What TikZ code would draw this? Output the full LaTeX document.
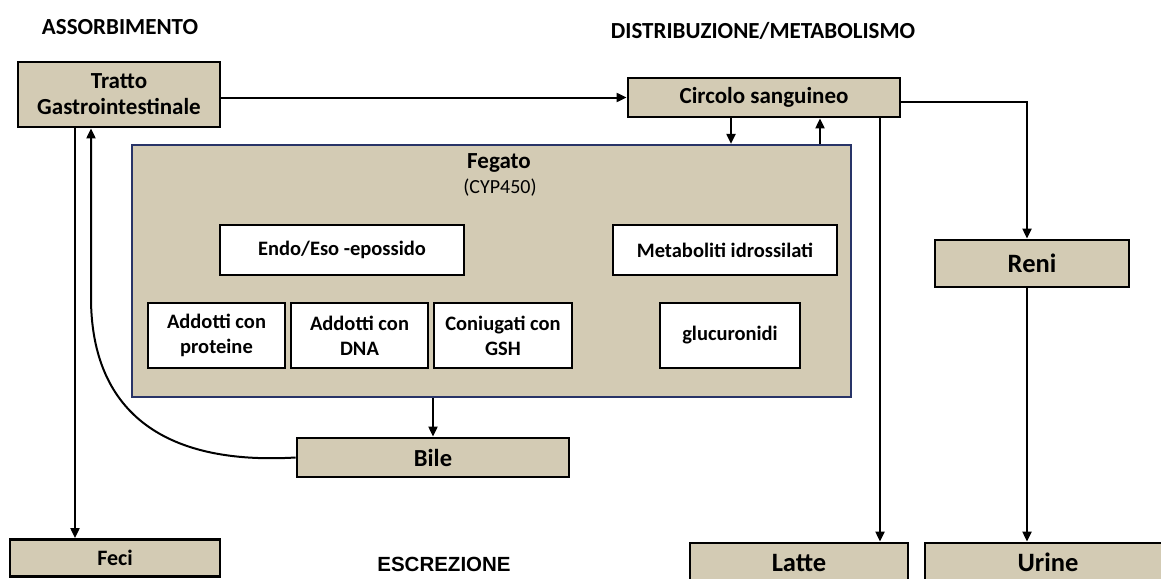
\documentclass[tikz,border=0pt]{standalone}
\usepackage{fontspec}
\setmainfont{Carlito}
\newfontfamily\arialfont{Liberation Sans}
\usetikzlibrary{arrows.meta,positioning}
\definecolor{boxtan}{RGB}{211,203,180}
\definecolor{liverblue}{RGB}{40,52,104}

\begin{document}
\begin{tikzpicture}[x=1pt,y=-1pt,>={Triangle[length=10pt,width=9pt]},
  box/.style={draw=black,line width=2.8pt,fill=boxtan,align=center,inner sep=0pt,font=\fontsize{23}{26}\selectfont\bfseries},
  bigbox/.style={box,font=\fontsize{26.5}{30}\selectfont\bfseries},
  bluebox/.style={box,draw=liverblue,line width=2.2pt},
  whitebox/.style={draw=black,line width=2.2pt,fill=white,align=center,inner sep=0pt,font=\fontsize{20.5}{25}\selectfont\bfseries},
  heading/.style={font=\fontsize{23}{26}\selectfont\bfseries},
  arr/.style={->,line width=2pt}]
  \useasboundingbox (0,0) rectangle (1161,578);
  % titoli
  \node[heading] (assorb) at (120,27) {ASSORBIMENTO};
  \node[heading] (distrib) at (763,31) {DISTRIBUZIONE/METABOLISMO};
  \node[font=\arialfont\fontsize{20.5}{24}\selectfont\bfseries] (escrez) at (444,564) {ESCREZIONE};
  % fegato
  \node[bluebox,minimum width=719pt,minimum height=252pt] (fegato) at (491.5,271) {};
  \node[font=\fontsize{23}{26}\selectfont\bfseries] (fegatolbl) at (499,163) {Fegato};
  \node[font=\fontsize{20}{24}\selectfont] (cyp) at (500,188) {(CYP450)};
  \node[whitebox,minimum width=244pt,minimum height=50pt] (epox) at (342,250) {Endo/Eso -epossido};
  \node[whitebox,minimum width=224pt,minimum height=50pt] (idross) at (725,250) {Metaboliti idrossilati};
  \node[whitebox,minimum width=137pt,minimum height=65pt] (prot) at (216.5,335.5) {Addotti con\\proteine};
  \node[whitebox,minimum width=137pt,minimum height=65pt] (dna) at (359.5,335.5) {Addotti con\\DNA};
  \node[whitebox,minimum width=138pt,minimum height=65pt] (gsh) at (503,335.5) {Coniugati con\\GSH};
  \node[whitebox,minimum width=140pt,minimum height=65pt] (gluc) at (730,335.5) {glucuronidi};
  % altri compartimenti
  \node[box,minimum width=202pt,minimum height=65pt] (tratto) at (119,94.5) {Tratto\\Gastrointestinale};
  \node[box,minimum width=272pt,minimum height=39pt] (circolo) at (764,97.5) {Circolo sanguineo};
  \node[box,font=\fontsize{24.5}{28}\selectfont\bfseries,minimum width=272pt,minimum height=39pt] (bile) at (433,457.5) {Bile};
  \node[bluebox,bigbox,minimum width=194pt,minimum height=47pt] (reni) at (1032,263.5) {Reni};
  \node[box,font=\fontsize{22}{25}\selectfont\bfseries,minimum width=210pt,minimum height=37pt] (feci) at (115,558) {Feci};
  \node[bigbox,minimum width=218pt,minimum height=39pt] (latte) at (799,562.5) {Latte};
  \node[bigbox,minimum width=246pt,minimum height=39pt] (urine) at (1048,562.5) {Urine};
  % frecce
  \draw[arr] (tratto.east |- circolo.west) -- (circolo.west);
  \draw[arr] ([xshift=-44pt]tratto.south) -- ([xshift=-44pt]tratto.south |- feci.north);
  \draw[arr] (bile.west) .. controls (150,466) and (92,400) .. (91,300) -- ([xshift=-28pt]tratto.south);
  \draw[arr] ([xshift=-33pt]circolo.south) -- ([xshift=-33pt]circolo.south |- fegato.north);
  \draw[arr] ([xshift=56pt]circolo.south |- fegato.north) -- ([xshift=56pt]circolo.south);
  \draw[arr] ([yshift=-4pt]circolo.east) -| ([xshift=-5pt]reni.north);
  \draw[arr] ([xshift=116pt]circolo.south) -- ([xshift=116pt]circolo.south |- latte.north);
  \draw[arr] ([xshift=-5pt]reni.south) -- ([xshift=-5pt]reni.south |- urine.north);
  \draw[arr] (fegato.south -| bile.north) -- (bile.north);
\end{tikzpicture}
\end{document}
